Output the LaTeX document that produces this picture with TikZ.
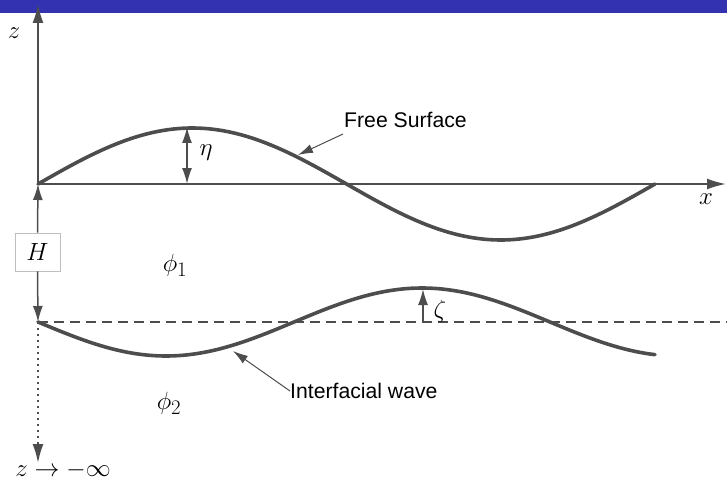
\documentclass[tikz,border=0pt]{standalone}
\usepackage{fontspec}
\setmainfont{Liberation Sans}
\usetikzlibrary{arrows.meta}
\definecolor{barblue}{RGB}{51,51,178}
\definecolor{ink}{RGB}{77,77,77}
\begin{document}
\begin{tikzpicture}[x=1pt,y=-1pt,
  mathlbl/.style={inner sep=0pt,font=\fontsize{24.88}{30}\selectfont},
  txtlbl/.style={inner sep=0pt,anchor=west,font=\fontsize{21.2}{25}\selectfont,text=black},
  axis/.style={draw=ink,line width=2pt,-{Latex[length=19pt,width=11pt]}},
  wave/.style={draw=ink,line width=3.6pt,line cap=round},
  thinarrow/.style={draw=ink,line width=1.5pt,-{Latex[length=16pt,width=10pt]}},
  pointer/.style={draw=ink,line width=1pt,-{Latex[length=15pt,width=9pt]}}]
\useasboundingbox (0,0) rectangle (727,481);
\fill[barblue] (0,0) rectangle (727,13);
% coordinates
\coordinate (O) at (38,184);
\coordinate (ztop) at (38,4);
\coordinate (xend) at (726,184);
\coordinate (I0) at (38,322);
\coordinate (dashend) at (727,322);
\coordinate (zbot) at (38,463);
\coordinate (etaB) at (187,184);
\coordinate (etaT) at (187,127);
\coordinate (zetaB) at (423,322);
\coordinate (zetaT) at (423,289);
\coordinate (fsp) at (298,155);
\coordinate (iwp) at (233,351);
% axes
\draw[axis] (O) -- (ztop);
\draw[axis] (O) -- (xend);
\node[mathlbl] (zl) at (14,33) {$z$};
\node[mathlbl] (xl) at (706,199) {$x$};
% dashed mean interface
\draw[draw=ink,line width=2pt,dash pattern=on 10pt off 6pt] (I0) -- (dashend);
% free surface
\draw[wave] plot[domain=38:655,samples=120] (\x,{184-56*sin(0.583468*(\x-38))});
% interfacial wave
\draw[wave] plot[domain=38:655,samples=120] (\x,{322+34*sin(0.703125*(\x-38))});
% eta and zeta
\draw[draw=ink,line width=1.5pt,{Latex[length=16pt,width=10pt]}-{Latex[length=16pt,width=10pt]}] (etaB) -- (etaT);
\node[mathlbl] (eta) at (206,153) {$\eta$};
\draw[thinarrow] (zetaB) -- (zetaT);
\node[mathlbl] (zeta) at (440,311) {$\zeta$};
% H box
\node[draw=black!25,line width=0.8pt,fill=white,minimum width=45pt,minimum height=38pt,inner sep=0pt,font=\fontsize{24.88}{30}\selectfont] (H) at (37.5,252) {$H$};
\draw[thinarrow] (H.north) -- (O);
\draw[thinarrow] (H.south) -- (I0);
% dotted depth
\draw[draw=ink,line width=2pt,dash pattern=on 2pt off 4pt,-{Latex[length=19pt,width=11pt]}] (I0) -- (zbot);
\node[mathlbl] (zinf) at (63,470) {$z\to-\infty$};
% phi labels
\node[mathlbl] (phi1) at (175,265) {$\phi_1$};
\node[mathlbl] (phi2) at (169,403) {$\phi_2$};
% text labels
\node[txtlbl] (fs) at (344,120) {Free Surface};
\draw[pointer] ([shift={(-1,14)}]fs.west) -- (fsp);
\node[txtlbl] (iw) at (290,391) {Interfacial wave};
\draw[pointer] (iw.west) -- (iwp);
\end{tikzpicture}
\end{document}
